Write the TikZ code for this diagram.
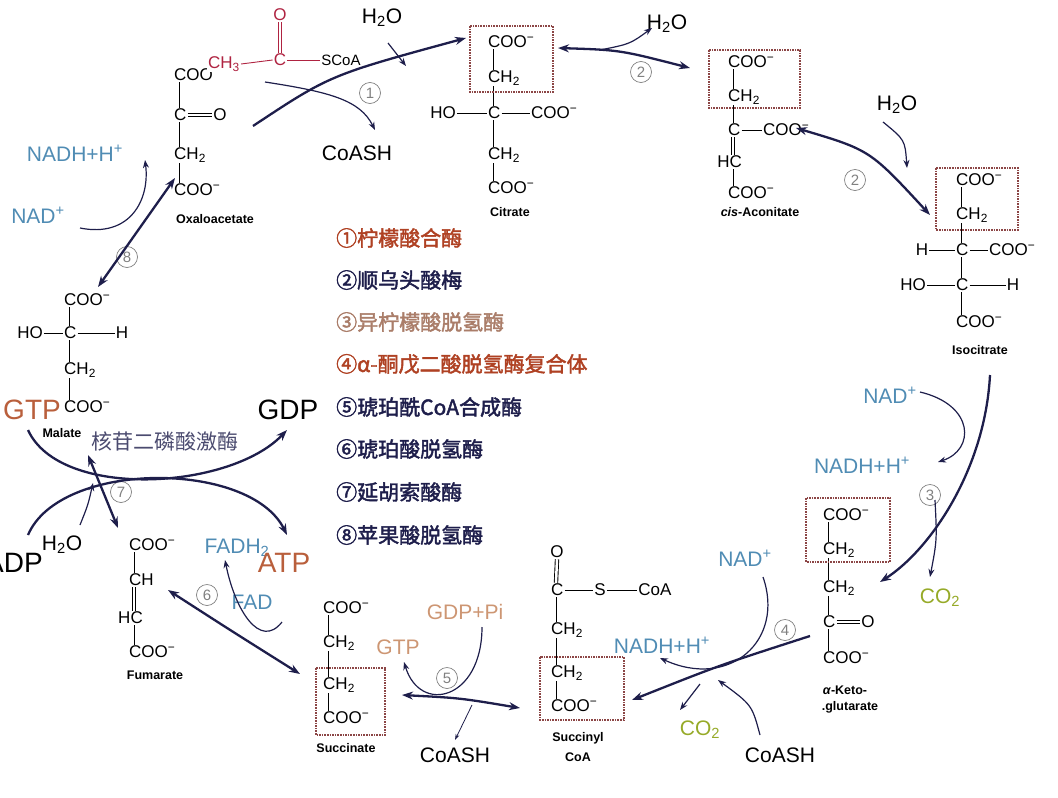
\documentclass[tikz,border=0pt]{standalone}
\usepackage{fontspec}
\setmainfont{Liberation Sans}
\newfontfamily\cjk{Noto Sans CJK SC}[FakeBold=2]
\newfontfamily\cjkn{Noto Sans CJK SC}
\usetikzlibrary{arrows.meta}
\definecolor{navy}{RGB}{30,30,75}
\definecolor{nadblue}{RGB}{80,140,180}
\definecolor{gtpor}{RGB}{185,95,60}
\definecolor{lightor}{RGB}{205,150,115}
\definecolor{cogreen}{RGB}{150,170,40}
\definecolor{acred}{RGB}{175,35,65}
\definecolor{boxred}{RGB}{140,70,70}
\definecolor{enz1}{RGB}{175,65,35}
\definecolor{enz3}{RGB}{170,125,105}
\newcommand{\coo}{COO\textsuperscript{−}}
\newcommand{\chh}{CH\textsubscript{2}}
\newcommand{\bnd}[2]{\draw[bond] ([xshift=6pt]#1.south west) -- ([xshift=6pt]#2.north west);}
\tikzset{
  grp/.style={font=\fontsize{17}{17}\selectfont, inner sep=1pt, anchor=west},
  atm/.style={font=\fontsize{17}{17}\selectfont, inner sep=1pt},
  mname/.style={font=\bfseries\fontsize{12.5}{13}\selectfont, inner sep=1pt},
  lbl/.style={font=\fontsize{21}{21}\selectfont, inner sep=1pt},
  big/.style={font=\fontsize{28}{28}\selectfont, inner sep=1pt},
  bond/.style={line width=0.9pt},
  dbox/.style={draw=boxred, densely dotted, line width=1.6pt},
  num/.style={circle, draw=gray, line width=0.7pt, inner sep=1pt, minimum size=21pt, text=gray, font=\fontsize{15}{15}\selectfont},
  rx/.style={-{Stealth[length=11pt,width=8pt]}, line width=2.3pt, draw=navy},
  rxx/.style={{Stealth[length=11pt,width=8pt]}-{Stealth[length=11pt,width=8pt]}, line width=2.3pt, draw=navy},
  sx/.style={-{Stealth[length=8pt,width=6pt]}, line width=1.2pt, draw=navy},
  enz/.style={anchor=west, font=\cjk\fontsize{21}{22}\selectfont, inner sep=1pt}
}
\begin{document}
\begin{tikzpicture}[x=1pt, y=-1pt]
\useasboundingbox (0,0) rectangle (1058,798);
% oxaloacetate
\node[grp] (oa1) at (173,75) {\coo};
\node[grp] (oa2) at (173,115) {C};
\node[atm] (oaO) at (220,115) {O};
\node[grp] (oa3) at (173,155) {\chh};
\node[grp] (oa4) at (173,190) {\coo};
\bnd{oa1}{oa2} \bnd{oa2}{oa3} \bnd{oa3}{oa4}
\draw[bond, double, double distance=2.5pt] (oa2.east) -- (oaO.west);
\node[mname] at (215,219) {Oxaloacetate};
% acetyl-CoA
\node[atm, text=acred, fill=white] (ac1) at (224,64) {CH\textsubscript{3}};
\node[atm, text=acred] (acC) at (280,60) {C};
\node[atm, text=acred] (acO) at (280,15) {O};
\node[atm, font=\fontsize{15}{15}\selectfont] (acS) at (341,60) {SCoA};
\draw[bond, draw=acred] (ac1.east) -- (acC.west);
\draw[bond, draw=acred] (acC.east) -- (acS.west);
\draw[bond, draw=acred, double, double distance=2.5pt] (acO.south) -- (acC.north);
% citrate
\node[grp] (ci1) at (487,42) {\coo};
\node[grp] (ci2) at (487,78) {\chh};
\node[grp] (ci3) at (487,113) {C};
\node[atm] (ciHO) at (443,113) {HO};
\node[grp] (ciR) at (530,113) {\coo};
\node[grp] (ci4) at (487,155) {\chh};
\node[grp] (ci5) at (487,188) {\coo};
\bnd{ci1}{ci2} \bnd{ci2}{ci3} \bnd{ci3}{ci4} \bnd{ci4}{ci5}
\draw[bond] (ciHO.east) -- (ci3.west) (ci3.east) -- (ciR.west);
\draw[dbox] (470,26) rectangle (553,92);
\node[mname] at (510,212) {Citrate};
% cis-aconitate
\node[grp] (ca1) at (727,62) {\coo};
\node[grp] (ca2) at (727,97) {\chh};
\node[grp] (ca3) at (727,130) {C};
\node[grp] (caR) at (762,130) {\coo};
\node[atm, anchor=east] (ca4) at (743,162) {HC};
\node[grp] (ca5) at (727,193) {\coo};
\bnd{ca1}{ca2} \bnd{ca2}{ca3}
\draw[bond, double, double distance=2.5pt] ([xshift=6pt]ca3.south west) -- ([xshift=6pt]ca5.north west |- ca4.north);
\draw[bond] ([xshift=6pt]ca5.north west |- ca4.south) -- ([xshift=6pt]ca5.north west);
\draw[bond] (ca3.east) -- (caR.west);
\draw[dbox] (709,50) rectangle (800,108);
\node[mname] at (760,212) {\textit{cis}-Aconitate};
% isocitrate
\node[grp] (ic1) at (955,180) {\coo};
\node[grp] (ic2) at (955,215) {\chh};
\node[grp] (ic3) at (955,250) {C};
\node[atm] (icH) at (922,250) {H};
\node[grp] (icR) at (988,250) {\coo};
\node[grp] (ic4) at (955,285) {C};
\node[atm] (icHO) at (913,285) {HO};
\node[atm] (icH2) at (1013,285) {H};
\node[grp] (ic5) at (955,322) {\coo};
\bnd{ic1}{ic2} \bnd{ic2}{ic3} \bnd{ic3}{ic4} \bnd{ic4}{ic5}
\draw[bond] (icH.east) -- (ic3.west) (ic3.east) -- (icR.west);
\draw[bond] (icHO.east) -- (ic4.west) (ic4.east) -- (icH2.west);
\draw[dbox] (936,168) rectangle (1018,230);
\node[mname] at (980,350) {Isocitrate};
% alpha-ketoglutarate
\node[grp] (k1) at (822,515) {\coo};
\node[grp] (k2) at (822,550) {\chh};
\node[grp] (k3) at (822,588) {\chh};
\node[grp] (k4) at (822,622) {C};
\node[atm] (kO) at (868,622) {O};
\node[grp] (k5) at (822,658) {\coo};
\bnd{k1}{k2} \bnd{k2}{k3} \bnd{k3}{k4} \bnd{k4}{k5}
\draw[bond, double, double distance=2.5pt] (k4.east) -- (kO.west);
\draw[dbox] (806,498) rectangle (890,562);
\node[mname] at (845,690) {\textit{α}-Keto-};
\node[mname] at (850,707) {.glutarate};
% succinyl-CoA
\node[atm] (s0) at (557,552) {O};
\node[grp] (s1) at (550,590) {C};
\node[atm] (sS) at (600,590) {S};
\node[atm] (sCoA) at (655,590) {CoA};
\node[grp] (s2) at (550,630) {\chh};
\node[grp] (s3) at (550,673) {\chh};
\node[grp] (s4) at (550,706) {\coo};
\draw[bond, double, double distance=2.5pt] (s0.south) -- ([xshift=6pt]s1.north west);
\bnd{s1}{s2} \bnd{s2}{s3} \bnd{s3}{s4}
\draw[bond] (s1.east) -- (sS.west) (sS.east) -- (sCoA.west);
\draw[dbox] (540,657) rectangle (624,720);
\node[mname] at (578,738) {Succinyl};
\node[mname] at (578,757) {CoA};
% succinate
\node[grp] (u1) at (322,608) {\coo};
\node[grp] (u2) at (322,643) {\chh};
\node[grp] (u3) at (322,685) {\chh};
\node[grp] (u4) at (322,718) {\coo};
\bnd{u1}{u2} \bnd{u2}{u3} \bnd{u3}{u4}
\draw[dbox] (316,668) rectangle (385,735);
\node[mname] at (346,748) {Succinate};
% fumarate
\node[grp] (f1) at (128,545) {\coo};
\node[grp] (f2) at (128,580) {CH};
\node[atm, anchor=east] (f3) at (144,618) {HC};
\node[grp] (f4) at (128,652) {\coo};
\bnd{f1}{f2}
\draw[bond, double, double distance=2.5pt] ([xshift=6pt]f2.south west) -- ([xshift=6pt]f2.south west |- f3.north);
\draw[bond] ([xshift=6pt]f4.north west |- f3.south) -- ([xshift=6pt]f4.north west);
\node[mname] at (155,675) {Fumarate};
% malate
\node[grp] (m1) at (63,300) {\coo};
\node[grp] (m2) at (63,333) {C};
\node[atm] (mHO) at (30,333) {HO};
\node[atm] (mH) at (122,333) {H};
\node[grp] (m3) at (63,370) {\chh};
\node[grp] (m4) at (63,407) {\coo};
\bnd{m1}{m2} \bnd{m2}{m3} \bnd{m3}{m4}
\draw[bond] (mHO.east) -- (m2.west) (m2.east) -- (mH.west);
\node[mname] at (62,433) {Malate};
% cofactors
\node[lbl] (w1) at (382,18) {H\textsubscript{2}O};
\node[lbl] (w2) at (667,24) {H\textsubscript{2}O};
\node[lbl] (w3) at (897,105) {H\textsubscript{2}O};
\node[lbl] (cs1) at (357,153) {CoASH};
\node[lbl, text=nadblue] (nh8) at (75,153) {NADH+H\textsuperscript{+}};
\node[lbl, text=nadblue] (n8) at (38,215) {NAD\textsuperscript{+}};
\node[lbl, text=nadblue] (n3) at (890,395) {NAD\textsuperscript{+}};
\node[lbl, text=nadblue] (nh3) at (862,465) {NADH+H\textsuperscript{+}};
\node[lbl, text=cogreen] (co3) at (940,598) {CO\textsubscript{2}};
\node[lbl, text=nadblue] (n4) at (745,558) {NAD\textsuperscript{+}};
\node[lbl, text=nadblue] (nh4) at (662,645) {NADH+H\textsuperscript{+}};
\node[lbl, text=cogreen] (co4) at (700,730) {CO\textsubscript{2}};
\node[lbl] (cs4) at (780,755) {CoASH};
\node[lbl] (cs5) at (455,755) {CoASH};
\node[lbl, text=lightor] (gdpi) at (465,612) {GDP+Pi};
\node[lbl, text=lightor] (gtp5) at (398,647) {GTP};
\node[lbl, text=nadblue] (fadh) at (237,548) {FADH\textsubscript{2}};
\node[lbl, text=nadblue] (fad) at (252,602) {FAD};
\node[big, text=gtpor] (atp) at (284,563) {ATP};
\node[big] (adp) at (14,563) {ADP};
\node[lbl] (w7) at (62,545) {H\textsubscript{2}O};
\node[big, text=gtpor] (gtp) at (32,410) {GTP};
\node[big] (gdp) at (288,410) {GDP};
\node[font=\cjkn\fontsize{21}{21}\selectfont, text=navy!80] (ndk) at (165,442) {核苷二磷酸激酶};
% step numbers
\node[num] (e1) at (370,93) {1};
\node[num] (e2a) at (641,72) {2};
\node[num] (e2b) at (855,180) {2};
\node[num] (e3) at (930,495) {3};
\node[num] (e4) at (785,630) {4};
\node[num] (e5) at (447,678) {5};
\node[num] (e6) at (207,595) {6};
\node[num] (e7) at (121,492) {7};
\node[num] (e8) at (127,257) {8};
% enzyme list
\node[enz, text=enz1] (z1) at (335,238) {①柠檬酸合酶};
\node[enz, text=navy] (z2) at (335,280) {②顺乌头酸梅};
\node[enz, text=enz3] (z3) at (335,322) {③异柠檬酸脱氢酶};
\node[enz, text=enz1] (z4) at (335,364) {④α-酮戊二酸脱氢酶复合体};
\node[enz, text=navy] (z5) at (335,407) {⑤琥珀酰CoA合成酶};
\node[enz, text=navy] (z6) at (335,449) {⑥琥珀酸脱氢酶};
\node[enz, text=navy] (z7) at (335,492) {⑦延胡索酸酶};
\node[enz, text=navy] (z8) at (335,535) {⑧苹果酸脱氢酶};
% reaction arrows
\coordinate (a1s) at (253,126); \coordinate (a1e) at (466,38);
\draw[rx] (a1s) .. controls (330,75) .. (a1e);
\draw[sx] (388,43) -- (406,66);
\draw[sx] (265,82) .. controls (330,92) and (360,100) .. (375,130);
\coordinate (a2s) at (558,48); \coordinate (a2e) at (690,68);
\draw[rxx] (a2s) .. controls (620,50) .. (a2e);
\draw[sx] (600,50) .. controls (630,44) .. (652,28);
\draw[rxx] (796,128) .. controls (870,150) .. (930,215);
\draw[sx] (883,122) .. controls (905,140) .. (907,168);
\draw[rx] (990,375) .. controls (985,470) and (930,550) .. (880,582);
\draw[sx] (920,392) .. controls (975,405) and (975,450) .. (938,462);
\draw[sx] (935,500) .. controls (937,540) .. (930,577);
\draw[rx] (810,636) .. controls (720,665) .. (632,700);
\draw[sx] (763,577) .. controls (785,640) and (730,690) .. (660,658);
\draw[sx] (700,684) -- (680,710);
\draw[sx] (760,735) .. controls (752,705) .. (718,680);
\draw[rxx] (520,708) .. controls (460,698) .. (402,695);
\draw[sx] (482,627) .. controls (482,700) and (420,715) .. (404,662);
\draw[-{Stealth[length=6pt,width=4pt]}, line width=0.8pt, navy] (472,705) -- (455,740);
\draw[rxx] (300,674) .. controls (230,630) .. (168,590);
\draw[sx] (282,622) .. controls (260,650) and (235,610) .. (225,560);
\draw[rxx] (88,455) -- (118,528);
\draw[sx] (80,525) .. controls (88,505) .. (93,483);
\draw[rx] (28,430) .. controls (60,500) and (230,490) .. (287,430);
\draw[rx] (28,535) .. controls (60,460) and (250,460) .. (287,535);
\draw[rxx] (98,287) -- (175,178);
\draw[sx] (80,228) .. controls (130,238) and (150,200) .. (145,160);
\end{tikzpicture}
\end{document}
